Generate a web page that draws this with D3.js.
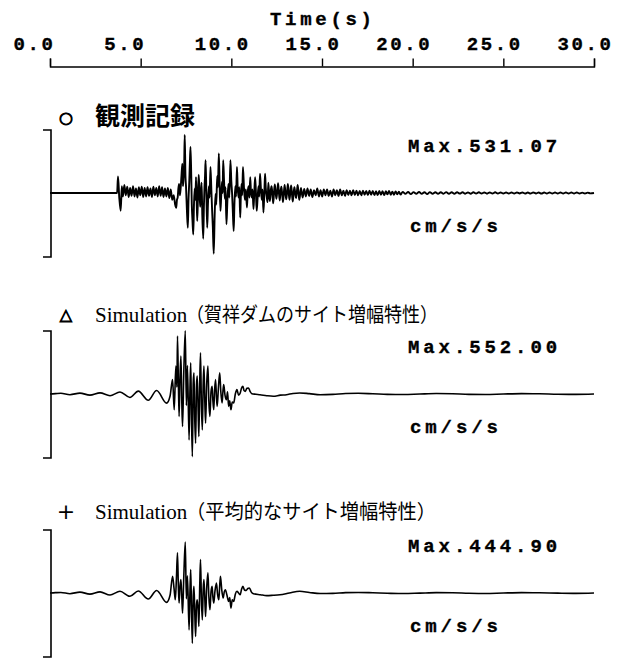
<!DOCTYPE html>
<html>
<head>
<meta charset="utf-8">
<script src="https://cdn.jsdelivr.net/npm/d3@7"></script>
<style>
  body { margin: 0; background: #fff; }
  svg { display: block; }
  .mono { font-family: "Liberation Mono", "DejaVu Sans Mono", monospace; font-weight: bold; font-size: 19px; stroke: #000; stroke-width: 0.35px; }
</style>
</head>
<body>
<svg id="chart" width="624" height="658"></svg>
<script>
// time axis
const timeTicks = [0, 5, 10, 15, 20, 25, 30];
const tickLabels = ["0.0", "5.0", "10.0", "15.0", "20.0", "25.0", "30.0"];

const markers = ["○", "△", "+"];
const titleLatin = ["", "Simulation", "Simulation"];
const titleJa = ["観測記録", "（賀祥ダムのサイト増幅特性）", "（平均的なサイト増幅特性）"];
const maxLabels = ["Max.531.07", "Max.552.00", "Max.444.90"];
const unitLabel = "cm/s/s";

// [time (s), acceleration (cm/s/s)]
const observed = [
  [0, 0], [3.7, 0], [3.75, 145], [3.82, -40], [3.9, -156], [3.96, 60], [4.02, -30], [4.1, 70],
  [4.18, -20], [4.26, 55], [4.34, -35], [4.42, 45], [4.5, -25], [4.58, 60], [4.66, -30], [4.74, 40],
  [4.82, -40], [4.9, 50], [4.98, -20], [5.06, 55], [5.14, -35], [5.22, 45], [5.3, -30], [5.38, 50],
  [5.46, -25], [5.54, 40], [5.62, -35], [5.7, 55], [5.78, -20], [5.86, 45], [5.94, -30], [6.02, 60],
  [6.1, -25], [6.18, 50], [6.26, -35], [6.34, 40], [6.42, -30], [6.5, 45], [6.58, -45], [6.66, 30],
  [6.74, -60], [6.82, -20], [6.9, -100], [6.96, -130], [7.0, -60], [7.04, -40], [7.08, 40], [7.12, 80],
  [7.16, -20], [7.2, 30], [7.25, 150], [7.3, 257], [7.33, 60], [7.36, 120], [7.4, 250], [7.43, 508],
  [7.47, 150], [7.5, 60], [7.55, -150], [7.6, -304], [7.64, -50], [7.68, 100], [7.72, 300], [7.75, 404],
  [7.79, 150], [7.82, -100], [7.86, -250], [7.9, -363], [7.94, -100], [7.98, 40], [8.02, -60], [8.05, 139],
  [8.09, -80], [8.12, -245], [8.16, -30], [8.2, 160], [8.24, 30], [8.28, -120], [8.32, -20], [8.36, 90],
  [8.4, -200], [8.45, -400], [8.49, -100], [8.52, 50], [8.55, 150], [8.58, 286], [8.62, 20], [8.67, -304],
  [8.71, -100], [8.76, 60], [8.8, -40], [8.85, 227], [8.9, 20], [8.94, -150], [8.98, -300], [9.03, -531],
  [9.08, -200], [9.13, -9], [9.17, -100], [9.22, 150], [9.26, 50], [9.31, 345], [9.35, 100], [9.4, -156],
  [9.44, -30], [9.49, 100], [9.52, 0], [9.55, 286], [9.6, 100], [9.64, -50], [9.68, 50], [9.73, -274],
  [9.78, -80], [9.84, 80], [9.89, -40], [9.95, 286], [10.0, 100], [10.04, 0], [10.08, -150], [10.13, -333],
  [10.17, -100], [10.22, 60], [10.26, -30], [10.31, 227], [10.35, 50], [10.4, -40], [10.44, 50], [10.49, -215],
  [10.52, -50], [10.56, 80], [10.6, -20], [10.64, 227], [10.7, 40], [10.75, -60], [10.8, 30], [10.86, -127],
  [10.9, 0], [10.95, 60], [11.0, -40], [11.04, 139], [11.08, 20], [11.13, -40], [11.17, 30], [11.22, -140],
  [11.26, -20], [11.31, 139], [11.35, 30], [11.4, -156], [11.45, -40], [11.5, 60], [11.54, -30], [11.58, 168],
  [11.63, 40], [11.68, -60], [11.72, 30], [11.77, -170], [11.82, 0], [11.86, 168], [11.9, 40], [11.95, -30],
  [12.0, -80], [12.04, 90], [12.09, -20], [12.13, -70], [12.18, 30], [12.22, 60], [12.27, -20], [12.31, -90],
  [12.36, 20], [12.4, 75], [12.45, -10], [12.49, -50], [12.54, 30], [12.58, 85], [12.63, -10], [12.67, -65],
  [12.72, 20], [12.76, 55], [12.81, -20], [12.85, -80], [12.9, 10], [12.94, 70], [12.99, -10], [13.03, -55],
  [13.08, 20], [13.12, 80], [13.17, -10], [13.21, -60], [13.26, 20], [13.3, 65], [13.35, -20], [13.39, -75],
  [13.44, 10], [13.48, 50], [13.53, -10], [13.57, -45], [13.62, 20], [13.66, 70], [13.71, -10], [13.75, -60],
  [13.84, 45], [13.93, -40], [14.02, 35], [14.11, -30], [14.2, 40], [14.29, -25], [14.38, 30], [14.47, -35],
  [14.56, 25], [14.65, -20], [14.74, 40], [14.83, -30], [14.92, 25], [15.01, -30], [15.1, 30], [15.19, -20],
  [15.28, 30], [15.37, -25], [15.46, 20], [15.55, -30], [15.64, 30], [15.73, -20], [15.82, 25], [15.91, -25],
  [16.0, 30], [16.09, -20], [16.18, 20], [16.27, -25], [16.36, 25], [16.45, -18], [16.54, 20], [16.63, -20],
  [16.72, 25], [16.81, -18], [16.9, 20], [16.99, -20], [17.08, 18], [17.17, -20], [17.26, 20], [17.35, -15],
  [17.44, 18], [17.53, -18], [17.62, 20], [17.71, -15], [17.8, 18], [17.89, -18], [17.98, 15], [18.07, -18],
  [18.16, 18], [18.25, -15], [18.34, 15], [18.43, -18], [18.52, 15], [18.61, -12], [18.7, 18], [18.79, -15],
  [18.88, 12], [18.97, -15], [19.06, 14], [19.15, -12], [19.24, 12], [19.33, -14],
  [19.45, 10], [19.6, -8], [19.75, 9], [19.9, -10], [20.05, 8], [20.2, -7], [20.35, 9], [20.5, -8],
  [20.65, 7], [20.8, -9], [20.95, 8], [21.1, -7], [21.25, 7], [21.4, -8], [21.55, 7], [21.7, -6],
  [21.85, 8], [22.0, -7], [22.15, 6], [22.3, -7], [22.45, 7], [22.6, -5], [22.75, 7], [22.9, -6],
  [23.05, 5], [23.2, -7], [23.35, 6], [23.5, -5], [23.65, 6], [23.8, -5], [23.95, 5], [24.1, -6],
  [24.25, 5], [24.4, -5], [24.55, 6], [24.7, -5], [24.85, 5], [25.0, -5], [25.15, 5], [25.3, -5],
  [25.45, 5], [25.6, -5], [25.75, 5], [25.9, -4], [26.05, 5], [26.2, -5], [26.35, 4], [26.5, -5],
  [26.65, 5], [26.8, -4], [26.95, 4], [27.1, -5], [27.25, 4], [27.4, -4], [27.55, 4], [27.7, -4],
  [27.85, 4], [28.0, -4], [28.15, 4], [28.3, -4], [28.45, 4], [28.6, -4], [28.75, 4], [28.9, -4],
  [29.05, 4], [29.2, -4], [29.35, 3], [29.5, -4], [29.65, 3], [29.8, -3], [30.0, 0]
];

const simKasho = [
  [0, 0], [0.3, 3], [0.6, 6], [1.1, -6], [1.65, 8], [2.2, -10], [2.76, 10], [3.31, -15],
  [3.86, 18], [4.41, -30], [4.87, 25], [5.42, -55], [5.88, 30], [6.43, -80], [6.62, -20], [6.76, 126],
  [6.85, -138], [6.94, 244], [7.0, 60], [7.03, 508], [7.08, 100], [7.12, -196], [7.17, 150], [7.22, 332],
  [7.27, -80], [7.31, -284], [7.38, 200], [7.46, 552], [7.52, -100], [7.58, 250], [7.67, -402], [7.72, 50],
  [7.76, 273], [7.8, -150], [7.85, -548], [7.9, 100], [7.94, 185], [7.98, -200], [8.03, -431], [8.08, 80],
  [8.12, 156], [8.17, -150], [8.21, -372], [8.26, 120], [8.3, 361], [8.35, -100], [8.4, -314], [8.45, 100],
  [8.49, 244], [8.54, -80], [8.58, -255], [8.64, 80], [8.71, 244], [8.76, -60], [8.82, -196], [8.88, 20],
  [8.94, 67], [8.98, -50], [9.03, -138], [9.08, 40], [9.13, 126], [9.18, -30], [9.22, -108], [9.29, 60],
  [9.36, 185], [9.42, 20], [9.49, -79], [9.54, 30], [9.58, 82], [9.65, -10], [9.73, -50], [9.79, 20],
  [9.85, -108], [9.91, -60], [9.98, -138], [10.05, -70], [10.13, -79], [10.22, 0], [10.31, 38], [10.4, -10],
  [10.49, 9], [10.56, 50], [10.64, 67], [10.7, 30], [10.77, 23], [10.86, 50], [10.95, 53], [11.04, 20],
  [11.13, 3], [11.35, -2], [11.58, -6], [11.95, -15], [12.31, -20], [12.7, -10], [13.04, -6], [13.4, 5],
  [13.77, 9], [14.3, 3], [14.9, -6], [15.6, -3], [16.3, 4], [17.0, 6], [17.8, 2], [18.6, -3],
  [19.5, -5], [20.4, 0], [21.3, 4], [22.2, 2], [23.1, -3], [24.0, -4], [25.0, 0], [26.0, 3],
  [27.0, 2], [28.0, -2], [29.0, -3], [30.0, 0]
];

const simAverage = [
  [0, 0], [0.3, 3], [0.6, 5], [1.1, -6], [1.65, 8], [2.2, -10], [2.76, 10], [3.31, -18],
  [3.86, 15], [4.41, -29], [4.87, 18], [5.42, -53], [5.88, 22], [6.43, -82], [6.62, -20], [6.76, 147],
  [6.84, 40], [6.91, -59], [6.97, 120], [7.03, 352], [7.08, 50], [7.12, -88], [7.17, 60], [7.22, 117],
  [7.27, -40], [7.31, -176], [7.38, 150], [7.46, 445], [7.52, -50], [7.58, 150], [7.67, -323], [7.72, 20],
  [7.76, 205], [7.8, -120], [7.85, -440], [7.9, -20], [7.94, 59], [7.98, -150], [8.03, -381], [8.08, -100],
  [8.12, -59], [8.17, -150], [8.21, -293], [8.26, 80], [8.3, 293], [8.35, -60], [8.4, -235], [8.45, 40],
  [8.49, 117], [8.54, -60], [8.58, -205], [8.64, 40], [8.71, 176], [8.76, -30], [8.82, -147], [8.88, 10],
  [8.94, 59], [8.98, -30], [9.03, -88], [9.1, 20], [9.18, 88], [9.24, -10], [9.31, -59], [9.35, 40],
  [9.4, 147], [9.47, 30], [9.55, -44], [9.61, 10], [9.67, 29], [9.76, -20], [9.85, -73], [9.91, -40],
  [9.98, -132], [10.05, -60], [10.13, -73], [10.22, -10], [10.31, 15], [10.4, 0], [10.49, -15], [10.56, 30],
  [10.64, 59], [10.73, 25], [10.82, 23], [10.91, 40], [11.0, 44], [11.1, 10], [11.22, -6], [11.6, -15],
  [11.95, -23], [12.3, -20], [12.68, -15], [13.2, 0], [13.77, 15], [14.3, 5], [14.9, -5], [15.6, -3],
  [16.3, 3], [17.0, 5], [17.8, 2], [18.6, -2], [19.5, -5], [20.4, -1], [21.3, 3], [22.2, 2],
  [23.1, -2], [24.0, -4], [25.0, 0], [26.0, 3], [27.0, 2], [28.0, -1], [29.0, -3], [30.0, 0]
];

const series = [observed, simKasho, simAverage];

const svg = d3.select("#chart");
const x = d3.scaleLinear().domain([0, 30]).range([50, 594]);
const yLim = 560;

// top time axis
const axisY = 66.5;
const axisG = svg.append("g")
  .attr("transform", `translate(0,${axisY})`)
  .call(d3.axisTop(x).tickValues(timeTicks).tickSize(8).tickSizeOuter(8).tickPadding(8.5)
    .tickFormat((d, i) => tickLabels[i]));
axisG.select(".domain").attr("stroke", "#000").attr("stroke-width", 1.4);
axisG.selectAll(".tick line").attr("stroke", "#000").attr("stroke-width", 1.4);
axisG.selectAll(".tick text")
  .attr("class", "mono")
  .attr("fill", "#000")
  .attr("x", -37)
  .attr("text-anchor", "start")
  .style("letter-spacing", "2.6px");

svg.append("text")
  .attr("class", "mono")
  .attr("x", 270)
  .attr("y", 25)
  .style("letter-spacing", "3.7px")
  .text("Time(s)");

const baselines = [193, 394, 593];
const titleY = [125, 322, 519];

function drawPanel(i) {
  const base = baselines[i];
  const y = d3.scaleLinear().domain([-yLim, yLim]).range([base + 64, base - 64]);
  const g = svg.append("g");

  // bracket on the left
  g.append("path")
    .attr("d", `M43,${y(yLim) + 1}H51V${y(-yLim)}H43`)
    .attr("fill", "none")
    .attr("stroke", "#000")
    .attr("stroke-width", 1.6);

  const line = d3.line()
    .x(d => x(d[0]))
    .y(d => y(d[1]))
    .curve(d3.curveMonotoneX);
  g.append("path")
    .datum(series[i])
    .attr("fill", "none")
    .attr("stroke", "#000")
    .attr("stroke-width", i === 0 ? 1.9 : 1.6)
    .attr("stroke-linejoin", "round")
    .attr("d", line);

  // title
  g.append("text")
    .attr("x", 66)
    .attr("y", titleY[i] - 8)
    .attr("text-anchor", "middle")
    .attr("dominant-baseline", "central")
    .style("font-family", "DejaVu Sans")
    .style("font-size", i === 2 ? "22px" : "16px")
    .style("stroke", "#000")
    .style("stroke-width", i === 2 ? 0 : 0.9)
    .text(markers[i]);

  if (i === 0) {
    g.append("text")
      .attr("x", 95)
      .attr("y", titleY[i])
      .style("font-family", "Noto Sans CJK JP")
      .style("font-weight", "bold")
      .style("font-size", "25px")
      .text(titleJa[i]);
  } else {
    g.append("text")
      .attr("x", 95)
      .attr("y", titleY[i])
      .style("font-family", "Liberation Serif")
      .style("font-size", "21px")
      .text(titleLatin[i]);
    g.append("text")
      .attr("x", 186)
      .attr("y", titleY[i])
      .attr("textLength", i === 1 ? 252 : 250)
      .attr("lengthAdjust", "spacingAndGlyphs")
      .style("font-family", "Noto Sans CJK JP")
      .style("font-size", "20px")
      .text(titleJa[i]);
  }

  g.append("text")
    .attr("class", "mono")
    .attr("x", 408)
    .attr("y", base - 41)
    .style("letter-spacing", "3.9px")
    .text(maxLabels[i]);

  g.append("text")
    .attr("class", "mono")
    .attr("x", 410)
    .attr("y", base + 39)
    .style("letter-spacing", "3.9px")
    .text(unitLabel);
}

series.forEach((s, i) => drawPanel(i));
</script>
</body>
</html>
